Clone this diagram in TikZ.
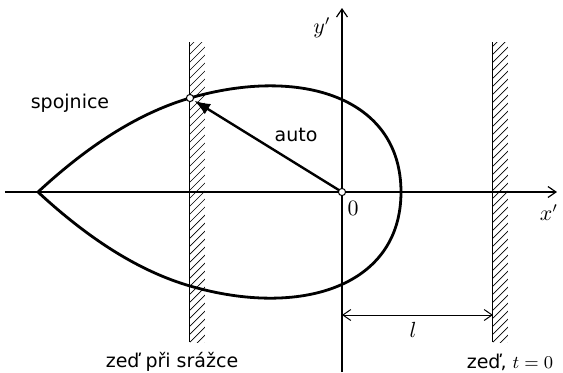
\documentclass[tikz,border=0pt]{standalone}
\usepackage{fontspec}
\setsansfont{DejaVu Sans}
\usetikzlibrary{arrows.meta}
\tikzset{barb/.tip={Straight Barb[length=4pt,width=5.5pt]}}
\begin{document}
\begin{tikzpicture}[x=0.5pt,y=0.5pt,
  axis/.style={line width=0.6pt},
  curve/.style={line width=1.4pt, line join=round},
  wall/.style={line width=0.5pt},
  hatch/.style={line width=0.35pt},
  lbl/.style={font=\sffamily\fontsize{9.5}{12}\selectfont, inner sep=1pt},
  mlbl/.style={font=\fontsize{10.5}{12}\selectfont, inner sep=1pt},
  dot/.style={circle, draw, fill=white, line width=0.5pt, inner sep=0pt, minimum size=3.6pt}]
\useasboundingbox (-342,-180) rectangle (221,192);
% coordinates
\coordinate (O) at (0,0);
\coordinate (P) at (-152,94);
\coordinate (C) at (-304,0);
\coordinate (R) at (59,0);
\coordinate (Q) at (-152,-94);
\coordinate (xs) at (-337,0);
\coordinate (xe) at (215,0);
\coordinate (ys) at (0,-180);
\coordinate (ye) at (0,184);
\coordinate (d1) at (0,-123);
\coordinate (d2) at (151,-123);
% walls
\foreach \wx in {-152,151}{
  \begin{scope}
    \clip (\wx,-150) rectangle (\wx+15,150);
    \foreach \k in {-166,-158,...,150} \draw[hatch] (\wx,\k) -- ++(16,16);
  \end{scope}
  \draw[wall] (\wx,-150) -- (\wx,150);
}
% axes
\draw[axis,-{barb}] (xs) -- (xe);
\draw[axis,-{barb}] (ys) -- (ye);
% curve
\draw[curve] (C) .. controls (-250,50) and (-200,80) .. (P)
  .. controls (-42,126) and (59,95) .. (R)
  .. controls (59,-95) and (-42,-126) .. (Q)
  .. controls (-200,-80) and (-250,-50) .. (C);
% dimension
\draw[line width=0.5pt, {barb}-{barb}] (d1) -- (d2);
% car arrow
\draw[line width=1.2pt, -{Latex[length=8pt,width=6pt]}, shorten >=2.5pt] (O) -- (P);
\node[dot] (Odot) at (O) {};
\node[dot] (Pdot) at (P) {};
% labels
\node[mlbl] (ylab) at (-20,164) {$y'$};
\node[mlbl] (xlab) at (207,-21) {$x'$};
\node[mlbl] (zero) at (11,-16) {$0$};
\node[lbl] (auto) at (-46,57) {auto};
\node[lbl] (spoj) at (-272,89) {spojnice};
\node[mlbl] (len) at (71,-138) {$l$};
\node[lbl] (w1) at (-170,-170) {zeď při srážce};
\node[lbl] (w2) at (168,-170) {zeď, $t=0$};
\end{tikzpicture}
\end{document}
